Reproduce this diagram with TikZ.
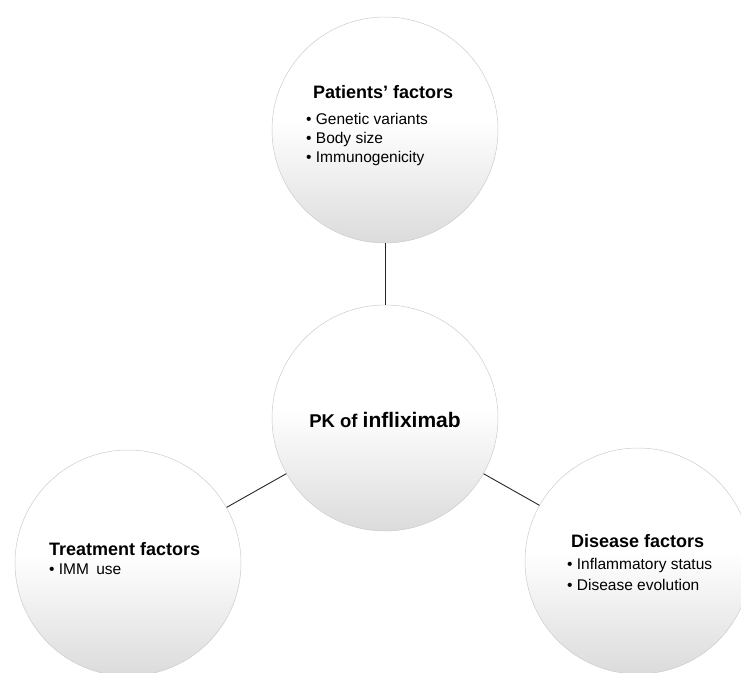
\documentclass[tikz,border=0pt]{standalone}
\usepackage{fontspec}
\setmainfont{Liberation Sans}
% white upper half, fading to a light grey at the bottom rim
\pgfdeclareverticalshading{bubbleshade}{100bp}{
  color(0bp)=(black!14); color(25bp)=(black!14);
  color(52bp)=(white); color(100bp)=(white)}
\begin{document}
\begin{tikzpicture}[x=1pt,y=-1pt,
  bubble/.style={circle,minimum size=226pt,inner sep=0pt,
    draw=gray!40,line width=0.5pt,shading=bubbleshade},
  link/.style={draw=black!85,line width=0.9pt},
  title/.style={anchor=base west,inner sep=0pt,font=\fontsize{18}{21}\selectfont\bfseries},
  item/.style={anchor=base west,inner sep=0pt,font=\fontsize{15.5}{19}\selectfont}]
  \useasboundingbox (0,0) rectangle (741,672);

  % circles
  \node[bubble] (pat) at (385,130) {};
  \node[bubble] (pk)  at (385,418) {};
  \node[bubble] (trt) at (128,563) {};
  \node[bubble] (dis) at (638,561) {};

  % connectors between the hub and the three factor groups
  \draw[link] (pk) -- (pat);
  \draw[link] (pk) -- (trt);
  \draw[link] (pk) -- (dis);

  % hub label
  \node[anchor=base,inner sep=0pt] (pklabel) at (385,427)
    {\bfseries\fontsize{18.5}{22}\selectfont PK of \fontsize{21}{24}\selectfont infliximab};

  % patients' factors
  \node[title] (pattitle) at (313,98) {Patients’ factors};
  \node[item] (pat1) at (306,124) {•~Genetic variants};
  \node[item] (pat2) at (306,143) {•~Body size};
  \node[item] (pat3) at (306,162) {•~Immunogenicity};

  % treatment factors
  \node[title] (trttitle) at (49,555) {Treatment factors};
  \node[item] (trt1) at (49,574) {•~IMM\hspace{3pt} use};

  % disease factors
  \node[title] (distitle) at (571,547) {Disease factors};
  \node[item] (dis1) at (567,569) {•~Inflammatory status};
  \node[item] (dis2) at (567,590) {•~Disease evolution};
\end{tikzpicture}
\end{document}
